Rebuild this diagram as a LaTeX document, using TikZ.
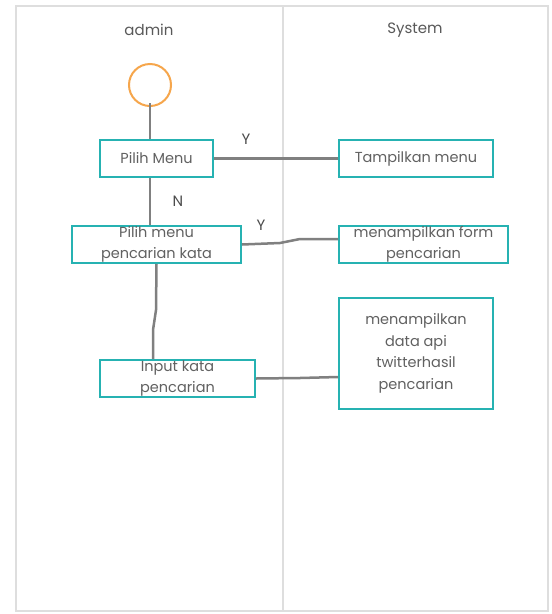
\documentclass[tikz,border=0pt]{standalone}
\usepackage{fontspec}
\setmainfont{Poppins}
\begin{document}
\begin{tikzpicture}[x=1pt,y=-1pt,
  lane/.style={draw=black!13,line width=2pt},
  act/.style={draw={rgb,255:red,38;green,178;blue,178},line width=2pt,rectangle,inner sep=0pt,
    align=center,font=\fontsize{14.5}{21.5}\selectfont,text=black!62},
  conn/.style={draw=black!50,line width=2.5pt},
  lbl/.style={font=\fontsize{15}{15}\selectfont,text=black!70},
  head/.style={font=\fontsize{15}{15}\selectfont,text=black!65}]
\useasboundingbox (0,0) rectangle (552,614);
\fill[white] (0,0) rectangle (552,614);
% swimlanes
\draw[lane] (16,6) rectangle (548,611);
\draw[lane] (283,6) -- (283,611);
\node[head] (hadmin) at (149,30) {admin};
\node[head] (hsys) at (415,30) {System};
% start
\node[draw={rgb,255:red,246;green,166;blue,76},line width=2pt,circle,minimum size=42pt,inner sep=0pt] (start) at (150,85) {};
% activities
\node[act,minimum width=113pt,minimum height=37pt] (pm) at (156.5,158.5) {Pilih Menu};
\node[act,minimum width=154pt,minimum height=37pt] (tm) at (416,158.5) {Tampilkan menu};
\node[act,minimum width=169pt,minimum height=37pt] (pk) at (156.5,244.5) {Pilih menu\\pencarian kata};
\node[act,minimum width=169pt,minimum height=37pt] (fp) at (423.5,244.5) {menampilkan form\\pencarian};
\node[act,minimum width=155pt,minimum height=37pt] (ik) at (177.5,378.5) {Input kata\\pencarian};
\node[act,minimum width=154pt,minimum height=111pt] (da) at (416,353.5) {menampilkan\\data api\\twitterhasil\\pencarian};
% connectors
\draw[conn] (start.south) ++(0,-4) -- (pm.north -| start.south);
\draw[conn] (pm.east) -- (tm.west);
\draw[conn] (pm.south -| start.south) -- (pk.north -| start.south);
\draw[conn] (pk.east) -- (280,243) -- (300,239) -- (fp.west |- 0,239);
\draw[conn] (pk.south) -- (156,310) -- (153,330) -- (ik.north -| 153,0);
\draw[conn] (ik.east) -- (300,378) -- (da.west |- 0,377);
% labels
\node[lbl] (y1) at (246,139) {Y};
\node[lbl] (n1) at (178,201) {N};
\node[lbl] (y2) at (261,225) {Y};
\end{tikzpicture}
\end{document}
